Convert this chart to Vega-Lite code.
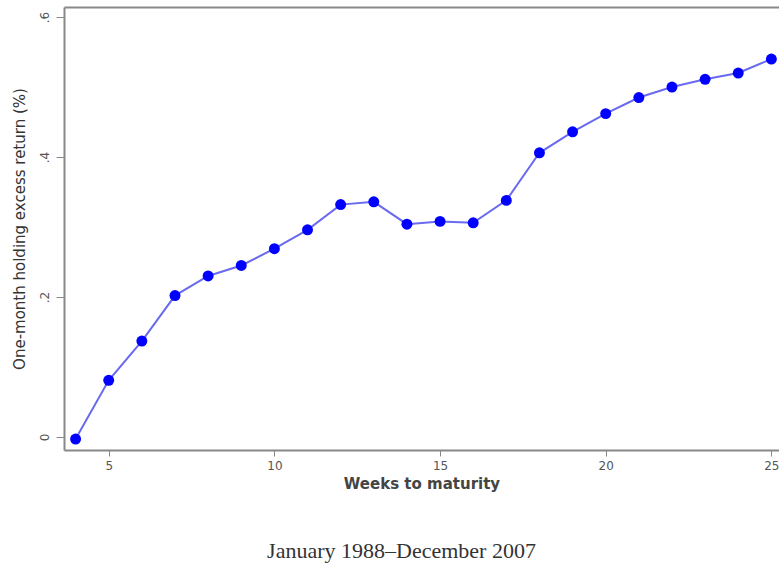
{
  "$schema": "https://vega.github.io/schema/vega-lite/v6.json",
  "width": 715,
  "height": 443,
  "autosize": {"type": "none"},
  "padding": {"left": 64, "top": 7, "right": 0, "bottom": 120},
  "background": "white",
  "config": {"view": {"stroke": null}},
  "title": {
    "text": "January 1988–December 2007",
    "orient": "bottom",
    "anchor": "middle",
    "offset": 50,
    "dx": -20,
    "font": "Liberation Serif",
    "fontSize": 22,
    "fontWeight": "normal",
    "color": "#333333"
  },
  "data": {
    "values": [
      {"weeks": 4, "ret": -0.003},
      {"weeks": 5, "ret": 0.081},
      {"weeks": 6, "ret": 0.137},
      {"weeks": 7, "ret": 0.202},
      {"weeks": 8, "ret": 0.230},
      {"weeks": 9, "ret": 0.245},
      {"weeks": 10, "ret": 0.269},
      {"weeks": 11, "ret": 0.296},
      {"weeks": 12, "ret": 0.332},
      {"weeks": 13, "ret": 0.336},
      {"weeks": 14, "ret": 0.304},
      {"weeks": 15, "ret": 0.308},
      {"weeks": 16, "ret": 0.306},
      {"weeks": 17, "ret": 0.338},
      {"weeks": 18, "ret": 0.406},
      {"weeks": 19, "ret": 0.436},
      {"weeks": 20, "ret": 0.462},
      {"weeks": 21, "ret": 0.485},
      {"weeks": 22, "ret": 0.500},
      {"weeks": 23, "ret": 0.511},
      {"weeks": 24, "ret": 0.520},
      {"weeks": 25, "ret": 0.540}
    ]
  },
  "encoding": {
    "x": {
      "field": "weeks",
      "type": "quantitative",
      "scale": {"domain": [3.65, 25.23], "nice": false, "zero": false},
      "axis": {
        "values": [5, 10, 15, 20, 25],
        "title": "Weeks to maturity",
        "grid": false,
        "domainColor": "#888888",
        "domainWidth": 2,
        "tickColor": "#888888",
        "tickSize": 6,
        "tickWidth": 1,
        "labelFont": "DejaVu Sans",
        "labelFontSize": 12,
        "labelColor": "#555555",
        "labelPadding": 4,
        "titleFont": "DejaVu Sans",
        "titleFontSize": 15,
        "titleFontWeight": "bold",
        "titleColor": "#444444",
        "titlePadding": 5
      }
    },
    "y": {
      "field": "ret",
      "type": "quantitative",
      "scale": {"domain": [-0.0186, 0.6143], "nice": false, "zero": false},
      "axis": {
        "values": [0, 0.2, 0.4, 0.6],
        "labelExpr": "datum.value == 0 ? '0' : replace(format(datum.value, '.1f'), '0.', '.')",
        "title": "One-month holding excess return (%)",
        "grid": false,
        "domainColor": "#888888",
        "domainWidth": 2,
        "tickColor": "#888888",
        "tickSize": 8,
        "tickWidth": 1,
        "labelAngle": -90,
        "labelAlign": "center",
        "labelBaseline": "bottom",
        "labelFont": "DejaVu Sans",
        "labelFontSize": 12,
        "labelColor": "#555555",
        "labelPadding": 5,
        "titleFont": "DejaVu Sans",
        "titleFontSize": 15,
        "titleFontWeight": "normal",
        "titleColor": "#333333",
        "titlePadding": 11
      }
    }
  },
  "layer": [
    {
      "mark": {"type": "line", "color": "#6a6af0", "strokeWidth": 2}
    },
    {
      "mark": {"type": "point", "filled": true, "color": "#0000ff", "size": 120, "opacity": 1},
      "encoding": {
        "x": {
          "field": "weeks",
          "type": "quantitative",
          "axis": {
            "orient": "top",
            "title": null,
            "labels": false,
            "ticks": false,
            "grid": false,
            "domainColor": "#888888",
            "domainWidth": 2
          }
        }
      }
    }
  ],
  "resolve": {"axis": {"x": "independent"}}
}
